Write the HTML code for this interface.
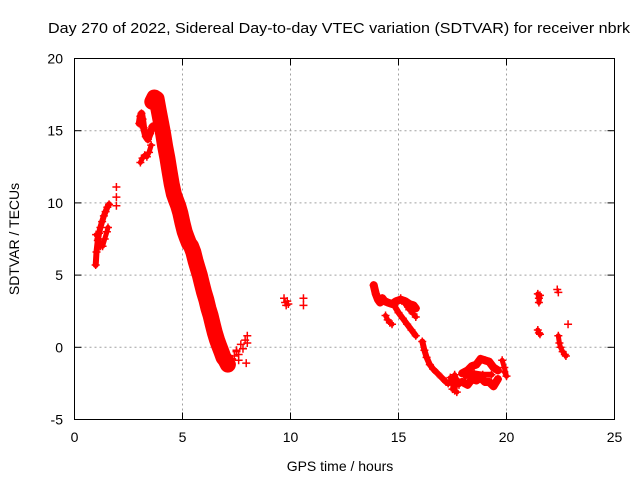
<!DOCTYPE html>
<html><head><meta charset="utf-8"><style>
body{margin:0;background:#fff;}
svg{display:block;font-family:"Liberation Sans",sans-serif;}
</style></head><body>
<svg id="chart" width="640" height="480" viewBox="0 0 640 480" xmlns="http://www.w3.org/2000/svg">
<rect width="640" height="480" fill="#fff"/>
<text x="339" y="33" font-size="15" text-anchor="middle" textLength="582" lengthAdjust="spacingAndGlyphs">Day 270 of 2022, Sidereal Day-to-day VTEC variation (SDTVAR) for receiver nbrk</text>
<g id="grid"></g>
<g id="marks"></g>
<rect x="74.5" y="58.5" width="540" height="361" fill="none" stroke="#000"/>
<g id="ticks"></g>
<text x="340" y="471" font-size="14" text-anchor="middle">GPS time / hours</text>
<text transform="translate(19,239) rotate(-90)" font-size="14" text-anchor="middle">SDTVAR / TECUs</text>
</svg>
<script>
const xTicks = [0,5,10,15,20,25];
const yTicks = [-5,0,5,10,15,20];
// tracks: hours and values (TECU)
const earlyHours = [0.98,1.02,1.08,1.14,1.2,1.28,1.36,1.44,1.52,1.6];
const earlyVals  = [5.7,6.6,7.4,7.9,8.3,8.7,9.1,9.4,9.7,9.9];
const earlyLowHours = [1.0,1.1,1.2,1.3,1.4,1.5,1.55];
const earlyLowVals  = [7.8,7.5,7.0,7.0,7.5,8.0,8.3];
const twoHours = [1.94,1.94,1.94];
const twoVals  = [11.1,10.4,9.8];
const threeHours = [3.0,3.05,3.1,3.15,3.2,3.3,3.4,3.5,3.6];
const threeVals  = [15.5,16.0,16.2,15.8,15.2,14.6,14.4,14.8,15.3];
const threeLowHours = [3.05,3.15,3.25,3.35,3.45,3.55];
const threeLowVals  = [12.8,13.1,13.3,13.2,13.5,14.0];
const mainHours = [3.6,3.7,3.8,3.9,4.0,4.1,4.2,4.3,4.4,4.5,4.6,4.7,4.8,4.9,5.0,5.1,5.2,5.3,5.4,5.5,5.6,5.7,5.8,5.9,6.0,6.1,6.2,6.3,6.4,6.5,6.6,6.7,6.8,6.9,7.0,7.1];
const mainVals  = [17.0,17.3,17.2,16.4,15.6,14.8,13.9,13.1,12.2,11.3,10.6,10.2,9.8,9.3,8.6,8.0,7.6,7.2,7.0,6.6,6.0,5.5,5.0,4.4,3.8,3.3,2.7,2.2,1.6,1.0,0.5,0.1,-0.3,-0.7,-0.9,-1.2];
const sevenHours = [7.3,7.4,7.5,7.6,7.7,7.8,7.9,8.0,8.0,7.95,7.6,7.5];
const sevenVals  = [-0.8,-0.6,-0.3,-0.5,0.2,-0.1,0.5,0.8,0.3,-1.1,-0.9,-0.2];
const tenHours = [9.7,9.75,9.8,9.85,9.9,10.6,10.6];
const tenVals  = [3.4,3.1,2.9,3.2,3.0,3.4,2.9];
const fourteenHours = [13.85,13.95,14.05,14.15,14.25,14.35,14.5,14.7,14.9,15.1,15.3,15.5,15.7,15.8];
const fourteenVals  = [4.3,3.7,3.3,3.1,3.4,3.2,3.1,3.0,3.2,3.3,3.2,3.0,2.9,2.7];
const fourteenLowHours = [14.4,14.5,14.6,14.7];
const fourteenLowVals  = [2.2,1.9,1.7,1.6];
const diagHours = [14.8,15.0,15.2,15.4,15.6,15.8];
const diagVals  = [2.9,2.4,2.0,1.6,1.2,0.8];
const diag2Hours = [15.1,15.3,15.5,15.7,15.8];
const diag2Vals  = [3.4,3.0,2.6,2.3,2.1];
const descHours = [16.1,16.2,16.3,16.45,16.6,16.8,17.0,17.2,17.3];
const descVals  = [0.4,-0.2,-0.7,-1.2,-1.5,-1.8,-2.1,-2.4,-2.5];
const seventeenHours = [17.4,17.5,17.6,17.7,17.8,17.6,17.5,17.7];
const seventeenVals  = [-2.1,-2.6,-3.0,-2.2,-2.6,-1.9,-2.9,-3.1];
const eighteenUpHours = [17.95,18.2,18.4,18.6,18.8,19.0,19.2,19.4,19.6];
const eighteenUpVals  = [-1.8,-1.6,-1.3,-1.2,-0.8,-0.9,-1.0,-1.4,-1.6];
const eighteenLowHours = [17.95,18.2,18.4,18.6,18.8,19.0,19.2,19.4,19.6];
const eighteenLowVals  = [-2.4,-2.6,-2.2,-2.3,-2.1,-2.4,-2.4,-2.7,-2.2];
const eighteenMidHours = [18.1,18.5,18.9,19.3];
const eighteenMidVals  = [-2.0,-1.8,-1.9,-1.9];
const twentyHours = [19.8,19.9,20.0,19.9];
const twentyVals  = [-0.9,-1.4,-2.0,-1.7];
const twentyOneHours = [21.45,21.5,21.5,21.55];
const twentyOneVals  = [3.7,3.4,3.1,3.6];
const twentyOneLowHours = [21.45,21.5,21.55];
const twentyOneLowVals  = [1.2,1.0,0.9];
const twentyTwoHours = [22.35,22.4,22.85];
const twentyTwoVals  = [4.0,3.8,1.6];
const twentyTwoLowHours = [22.4,22.45,22.5,22.6,22.7,22.75];
const twentyTwoLowVals  = [0.8,0.3,0.0,-0.3,-0.5,-0.6];

const X0=74.5, X1=614.5, Y0=419.5, Y1=58.5;
function xs(h){return X0+(h-0)/25*(X1-X0);}
function ys(v){return Y0-(v+5)/25*(Y0-Y1);}
const NS="http://www.w3.org/2000/svg";
function mk(tag,attrs,parent){const e=document.createElementNS(NS,tag);for(const k in attrs)e.setAttribute(k,attrs[k]);parent.appendChild(e);return e;}

const grid=document.getElementById('grid'), ticks=document.getElementById('ticks'), marks=document.getElementById('marks');
xTicks.forEach(t=>{
  const x=xs(t);
  if(t>0&&t<25){const g=mk('line',{x1:x,x2:x,y1:Y1,y2:Y0,stroke:'#a0a0a0','stroke-dasharray':'2,3'},grid);
    
    }
  mk('line',{x1:x,x2:x,y1:Y0,y2:Y0-7,stroke:'#000'},ticks);
  mk('line',{x1:x,x2:x,y1:Y1,y2:Y1+7,stroke:'#000'},ticks);
  const l=mk('text',{x:x,y:442,'font-size':14,'text-anchor':'middle'},ticks);
  l.textContent=t;
  
  
});
yTicks.forEach(t=>{
  const y=ys(t);
  if(t>-5&&t<20){const g=mk('line',{x1:X0,x2:X1,y1:y,y2:y,stroke:'#a0a0a0','stroke-dasharray':'2,3'},grid);
    
    }
  mk('line',{x1:X0,x2:X0+7,y1:y,y2:y,stroke:'#000'},ticks);
  mk('line',{x1:X1,x2:X1-7,y1:y,y2:y,stroke:'#000'},ticks);
  const l=mk('text',{x:63,y:y+5,'font-size':14,'text-anchor':'end'},ticks);
  l.textContent=t;
  
  
});

function track(hours,vals,width,name){
  if(width>0 && hours.length>1){
    const d=hours.map((h,i)=>(i?'L':'M')+xs(h).toFixed(1)+','+ys(vals[i]).toFixed(1)).join('');
    const p=mk('path',{d:d,fill:'none',stroke:'#f00','stroke-width':width,'stroke-linejoin':'round','stroke-linecap':'round'},marks);
    
    
  }
  hours.forEach((h,i)=>{
    const x=xs(h), y=ys(vals[i]);
    const m=mk('path',{d:`M${x-4},${y}h8M${x},${y-4}v8`,stroke:'#f00','stroke-width':1.5,fill:'none'},marks);
    
    
  });
}
track(earlyHours,earlyVals,6,'early');
track(earlyLowHours,earlyLowVals,5,'early-low');
track(twoHours,twoVals,0,'two');
track(threeHours,threeVals,7,'three');
track(threeLowHours,threeLowVals,5,'three-low');
track(mainHours,mainVals,16,'main');
track(sevenHours,sevenVals,0,'seven');
track(tenHours,tenVals,0,'ten');
track(fourteenHours,fourteenVals,8,'fourteen');
track(fourteenLowHours,fourteenLowVals,5,'fourteen-low');
track(diagHours,diagVals,6,'diag');
track(diag2Hours,diag2Vals,5,'diag2');
track(descHours,descVals,6,'desc');
track(seventeenHours,seventeenVals,5,'seventeen');
track(eighteenUpHours,eighteenUpVals,8,'eighteen-up');
track(eighteenLowHours,eighteenLowVals,8,'eighteen-low');
track(eighteenMidHours,eighteenMidVals,6,'eighteen-mid');
track(twentyHours,twentyVals,5,'twenty');
track(twentyOneHours,twentyOneVals,5,'twentyone');
track(twentyOneLowHours,twentyOneLowVals,5,'twentyone-low');
track(twentyTwoHours,twentyTwoVals,0,'twentytwo');
track(twentyTwoLowHours,twentyTwoLowVals,5,'twentytwo-low');
</script>
</body></html>
